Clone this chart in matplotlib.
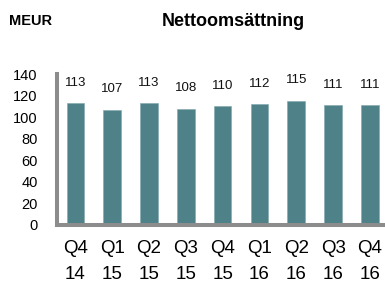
import numpy as np
import matplotlib.pyplot as plt

plt.rcParams['font.family'] = ['Liberation Sans', 'DejaVu Sans']

# Data #
quarters = ["Q4\n14", "Q1\n15", "Q2\n15", "Q3\n15", "Q4\n15", "Q1\n16", "Q2\n16", "Q3\n16", "Q4\n16"]
sales = [113, 107, 113, 108, 110, 112, 115, 111, 111]
y_ticks = [0, 20, 40, 60, 80, 100, 120, 140]

bar_color = '#4e8288'
axis_color = '#8c8c8c'

fig = plt.figure(figsize=(3.85, 2.84), dpi=100)
ax = fig.add_axes([57 / 385, 59 / 284, 1 - 57 / 385, 151 / 284])

x = np.arange(len(sales))
ax.bar(x, sales, width=0.48, color=bar_color, edgecolor='#7fa6aa', linewidth=0.4, zorder=2)

# value labels sit well above each bar
for xi, v in zip(x, sales):
    ax.text(xi, v + 19, str(v), ha='center', va='center', fontsize=9.5, color='#111111')

ax.set_xlim(-0.5, 8.41)
ax.set_ylim(0, 140)
ax.set_yticks(y_ticks)
ax.set_xticks(x)
ax.set_xticklabels(quarters, fontsize=13.5, linespacing=1.65)
ax.tick_params(axis='y', length=0, labelsize=10.5, pad=14)
ax.tick_params(axis='x', length=0, pad=11)

for side in ['top', 'right']:
    ax.spines[side].set_visible(False)
for side in ['left', 'bottom']:
    ax.spines[side].set_color(axis_color)
    ax.spines[side].set_linewidth(2.9)

fig.text(9 / 385, 1 - 21 / 284, "MEUR", fontsize=10.5, fontweight='bold', ha='left', va='center')
fig.text(233 / 385, 1 - 21 / 284, "Nettoomsättning", fontsize=13, fontweight='bold', ha='center', va='center')

fig.savefig('out.png', dpi=100)
